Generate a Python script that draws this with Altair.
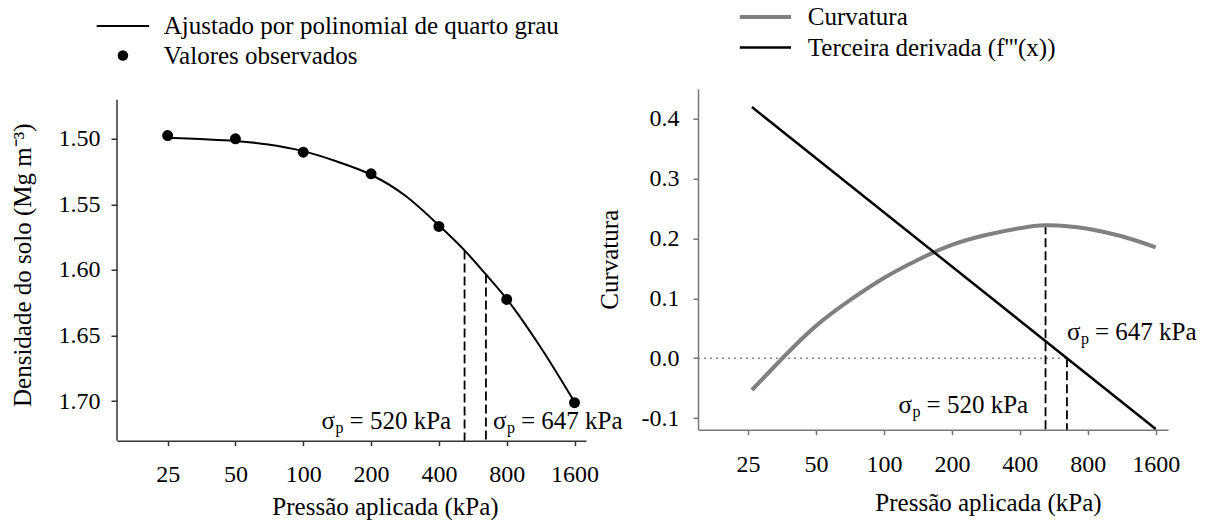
import altair as alt
import pandas as pd

FONT = "Liberation Serif"
FS = 25
TICK_FS = 24

# ---------------- data ----------------
press_ticks = [25, 50, 100, 200, 400, 800, 1600]

obs_p = [25, 50, 100, 200, 400, 800, 1600]
obs_bd = [1.4975, 1.5000, 1.5102, 1.5267, 1.5668, 1.6225, 1.7013]

fit_p = [25, 35, 50, 70, 100, 141, 200, 283, 400, 520, 647, 800, 1131, 1600]
fit_bd = [1.4992, 1.5002, 1.5016, 1.5043, 1.5094, 1.5173, 1.5274, 1.5432,
          1.5660, 1.5851, 1.6035, 1.6222, 1.6590, 1.7008]

curv_p = [26, 35.5, 50, 72, 100, 141, 200, 283, 400, 520, 647, 800, 1131, 1600]
curv_v = [-0.053, 0.0, 0.054, 0.099, 0.134, 0.164, 0.189, 0.2055,
          0.217, 0.2217, 0.2203, 0.216, 0.2035, 0.185]

third_p = [26, 1600]
third_v = [0.419, -0.118]

sigma_p = [520, 647]
left_top = [1.5851, 1.6035]
right_top = [0.2217, 0.0]

left_axis_span = [1.4702, 1.7303]      # visible extent of the left y axis line
left_ydom = [1.4618, 1.7303]           # plot area reaches as high as the right panel
right_ydom = [-0.1193, 0.4496]
left_xdom = [14.9, 1799]
right_xdom = [15.0, 1814]

left_yticks = [1.50, 1.55, 1.60, 1.65, 1.70]
right_yticks = [-0.1, 0.0, 0.1, 0.2, 0.3, 0.4]

FIT_LABEL = "Ajustado por polinomial de quarto grau"
OBS_LABEL = "Valores observados"
CURV_LABEL = "Curvatura"
THIRD_LABEL = "Terceira derivada (f'''(x))"

# annotation anchors (x = sigma_p value, y = label centre in data units)
left_ann_v = [1.715, 1.715]
right_ann_v = [-0.0788, 0.0433]
left_ann_dx = [-143, 7]
right_ann_dx = [-147, 0]
ann_text = ["= 520 kPa", "= 647 kPa"]


def xenc(dom, title_x, title_y, pad, dcol):
    return alt.X(
        "p:Q",
        scale=alt.Scale(type="log", base=2, domain=dom, nice=False),
        axis=alt.Axis(values=press_ticks, format="d", title="Pressão aplicada (kPa)",
                      titleX=title_x, titleY=title_y, titleBaseline="alphabetic",
                      labelPadding=pad, tickSize=5, grid=False, labelFont=FONT, titleFont=FONT,
                      domainColor=dcol, tickColor=dcol, labelFlush=False),
    )


def annotations(xe, ye, vals, dxs):
    layers = []
    for p, v, dx, t in zip(sigma_p, vals, dxs, ann_text):
        d = pd.DataFrame({"p": [p], "v": [v]})
        base = alt.Chart(d)
        layers.append(base.mark_text(text="σ", align="left", baseline="middle", dx=dx,
                                     font=FONT, fontSize=FS, color="black").encode(x=xe, y=ye))
        layers.append(base.mark_text(text="p", align="left", baseline="middle", dx=dx + 14, dy=7,
                                     font=FONT, fontSize=16, color="black").encode(x=xe, y=ye))
        layers.append(base.mark_text(text=t, align="left", baseline="middle", dx=dx + 28,
                                     font=FONT, fontSize=FS, color="black").encode(x=xe, y=ye))
    return layers


# ---------------- left panel ----------------
XL = xenc(left_xdom, 268, 74, 17, "#333")
YL = alt.Y("v:Q",
           scale=alt.Scale(domain=left_ydom, reverse=True, zero=False, nice=False),
           axis=alt.Axis(values=left_yticks, format=".2f", title="Densidade do solo (Mg m⁻³)",
                         tickSize=6, labelPadding=11, titlePadding=22.5, grid=False, domain=False,
                         labelFont=FONT, titleFont=FONT, tickColor="#333"))

fit_df = pd.DataFrame({"p": fit_p, "v": fit_bd})
obs_df = pd.DataFrame({"p": obs_p, "v": obs_bd, "s": [OBS_LABEL] * len(obs_p)})
lrule_df = pd.DataFrame({"p": sigma_p, "v": left_top, "v2": [left_axis_span[1]] * len(sigma_p)})
yaxis_df = pd.DataFrame({"p": [left_xdom[0]], "v": [left_axis_span[0]], "v2": [left_axis_span[1]]})

yaxis_line = alt.Chart(yaxis_df).mark_rule(color="#333", strokeWidth=1.5).encode(x=XL, y=YL, y2="v2:Q")
fit_line = alt.Chart(fit_df).mark_line(color="black", strokeWidth=2, interpolate="monotone").encode(x=XL, y=YL)
pts = alt.Chart(obs_df).mark_point(filled=True, color="black", size=120, opacity=1).encode(
    x=XL, y=YL,
    shape=alt.Shape("s:N",
                    scale=alt.Scale(domain=[FIT_LABEL, OBS_LABEL],
                                    range=["M-5,-0.2H5V0.2H-5Z", "circle"]),
                    legend=alt.Legend(title=None, orient="none", legendX=-6.6, legendY=-75.25,
                                      padding=0, labelOffset=28.4, rowPadding=3.5, symbolSize=110,
                                      symbolFillColor="black", symbolStrokeWidth=0, labelLimit=0,
                                      labelFontSize=FS, labelFont=FONT, labelColor="black")),
)
lrules = alt.Chart(lrule_df).mark_rule(color="black", strokeWidth=1.8, strokeDash=[9, 4]).encode(
    x=XL, y=YL, y2="v2:Q")

left = alt.layer(yaxis_line, fit_line, lrules, pts, *annotations(XL, YL, left_ann_v, left_ann_dx)).properties(
    width=469, height=352)

# ---------------- right panel ----------------
XR = xenc(right_xdom, 290, 80.7, 18, "#777")
YR = alt.Y("v:Q",
           scale=alt.Scale(domain=right_ydom, zero=False, nice=False),
           axis=alt.Axis(values=right_yticks, title="Curvatura",
                         labelExpr="datum.value < 0 ? '-' + format(abs(datum.value), '.1f') : format(datum.value, '.1f')",
                         tickSize=5, labelPadding=14, titlePadding=19, grid=False,
                         labelFont=FONT, titleFont=FONT,
                         domainColor="#777", tickColor="#777"))

lines_df = pd.DataFrame({
    "p": curv_p + third_p,
    "v": curv_v + third_v,
    "s": [CURV_LABEL] * len(curv_p) + [THIRD_LABEL] * len(third_p),
})
zero_df = pd.DataFrame({"p": [right_xdom[0], 647], "v": [0.0, 0.0]})
rrule_df = pd.DataFrame({"p": sigma_p, "v": right_top, "v2": [right_ydom[0]] * len(sigma_p)})

rlegend = alt.Legend(title=None, orient="none", legendX=54.9, legendY=-84.25, padding=0,
                     labelOffset=29.9, rowPadding=4.5, symbolSize=105, symbolType="M-5,0H5",
                     labelLimit=0, labelFontSize=FS, labelFont=FONT, labelColor="black")

zero_line = alt.Chart(zero_df).mark_line(color="#888", strokeWidth=1.5, strokeDash=[2, 4]).encode(x=XR, y=YR)
rrules = alt.Chart(rrule_df).mark_rule(color="black", strokeWidth=1.8, strokeDash=[9, 4]).encode(
    x=XR, y=YR, y2="v2:Q")
rlines = alt.Chart(lines_df).mark_line(interpolate="natural").encode(
    x=XR, y=YR,
    color=alt.Color("s:N", scale=alt.Scale(domain=[CURV_LABEL, THIRD_LABEL], range=["#808080", "black"]),
                    legend=rlegend),
    strokeWidth=alt.StrokeWidth("s:N", scale=alt.Scale(domain=[CURV_LABEL, THIRD_LABEL], range=[4, 2.5]),
                                legend=rlegend),
)

right = alt.layer(zero_line, rrules, rlines, *annotations(XR, YR, right_ann_v, right_ann_dx)).properties(
    width=470, height=341)

chart = alt.hconcat(left, right, spacing=-26).resolve_scale(
    x="independent", y="independent", color="independent", shape="independent", strokeWidth="independent"
).properties(
    padding={"left": 10, "top": 3.75, "right": 0, "bottom": 0}
).configure(font=FONT).configure_view(strokeWidth=0).configure_axis(
    labelFont=FONT, titleFont=FONT, labelFontSize=TICK_FS, titleFontSize=FS,
    labelColor="black", titleColor="black", titleFontWeight="normal", domainWidth=1.5, tickWidth=1.5
).configure_legend(labelFont=FONT)

chart.save("out.html", embed_options={"renderer": "svg", "actions": False})
